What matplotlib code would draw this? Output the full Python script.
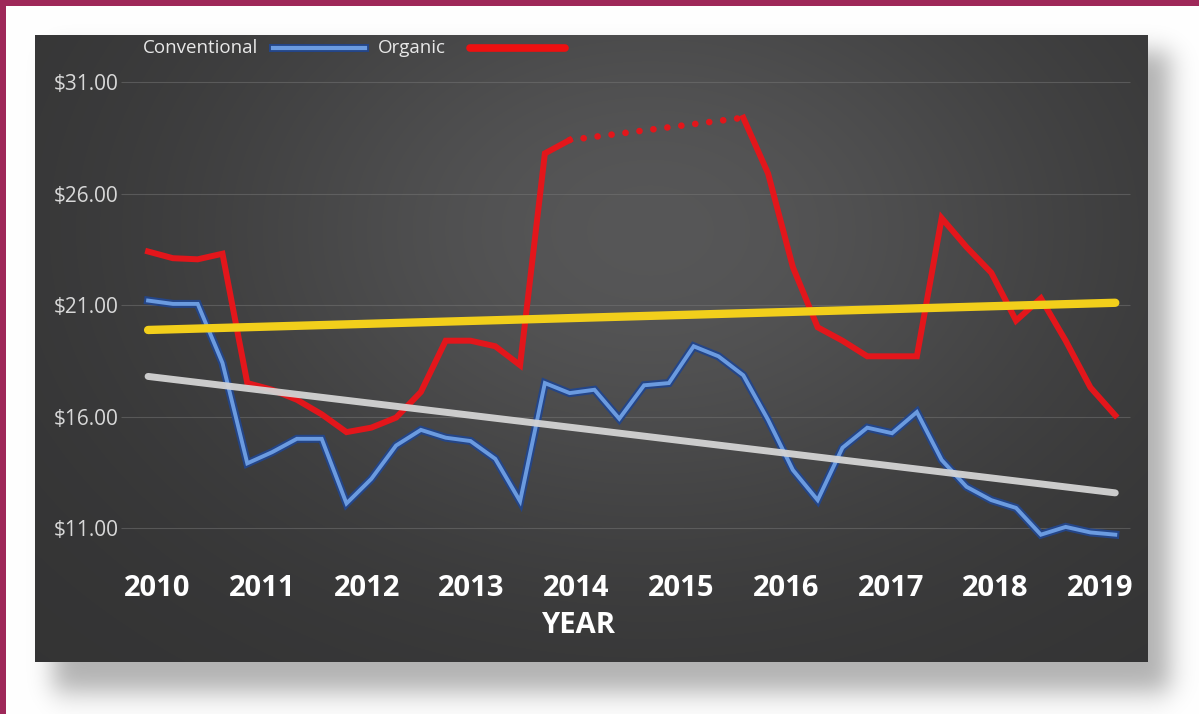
import numpy as np
import matplotlib.pyplot as plt
from matplotlib.lines import Line2D
import matplotlib.patheffects as pe

plt.rcParams['font.family'] = ['Open Sans', 'DejaVu Sans']

# quarterly average prices, 2010-2019
years = ["2010", "2011", "2012", "2013", "2014", "2015", "2016", "2017", "2018", "2019"]
price_ticks = [11, 16, 21, 26, 31]
series_names = ["Conventional", "Organic"]

conventional = [21.2, 21.05, 21.05, 18.4, 13.9, 14.4, 15.0, 15.0, 12.1, 13.2,
                14.7, 15.4, 15.05, 14.9, 14.1, 12.2, 17.5, 17.05, 17.2, 15.9,
                17.4, 17.5, 19.15, 18.7, 17.85, 15.85, 13.6, 12.25, 14.6, 15.5,
                15.25, 16.2, 14.05, 12.85, 12.25, 11.9, 10.7, 11.05, 10.8, 10.7]

# no organic figures for mid 2014 - mid 2015
organic = [23.4, 23.1, 23.05, 23.3, 17.5, 17.2, 16.75, 16.1, 15.3, 15.5,
           15.95, 17.1, 19.4, 19.4, 19.15, 18.3, 27.8, 28.4, np.nan, np.nan,
           np.nan, np.nan, np.nan, np.nan, 29.4, 26.9, 22.7, 20.0, 19.4, 18.7,
           18.7, 18.7, 24.9, 23.6, 22.45, 20.3, 21.3, 19.4, 17.3, 16.05]

W, H = 1199, 714
fig = plt.figure(figsize=(W / 100, H / 100), dpi=100)


def gauss_blur(img, sigma):
    def kern(n):
        idx = np.arange(n)
        k = np.exp(-0.5 * ((idx[:, None] - idx[None, :]) / sigma) ** 2)
        return k / k.sum(axis=1, keepdims=True)
    return kern(img.shape[0]) @ img @ kern(img.shape[1]).T


# page: white with maroon edge, soft shadow and chalkboard panel
yy, xx = np.mgrid[0:H, 0:W]
bg = np.ones((H, W, 3))
px0, px1, py0, py1 = 35, 1148, 35, 662

shadow = ((xx > 52) & (xx < 1170) & (yy > 50) & (yy < 692)).astype(float)
shadow = gauss_blur(shadow, 12)
bg *= (1 - 0.3 * shadow)[..., None]

board = 0.2 + 0.14 * np.exp(-(((xx - 650) / 450.0) ** 2 + ((yy - 230) / 320.0) ** 2))
inside = (xx >= px0) & (xx < px1) & (yy >= py0) & (yy < py1)
for c, tint in enumerate([1.0, 1.0, 1.01]):
    bg[..., c] = np.where(inside, board * tint, bg[..., c])

maroon = np.array([0.62, 0.16, 0.35])
bg[:6, :, :] = maroon
bg[:, :6, :] = maroon

bgax = fig.add_axes([0, 0, 1, 1])
bgax.imshow(bg, aspect='auto', interpolation='bilinear')
bgax.set_axis_off()

# plotting area sits on the board
ax = fig.add_axes([px0 / W, 1 - py1 / H, (px1 - px0) / W, (py1 - py0) / H])
ax.set_facecolor('none')
for s in ax.spines.values():
    s.set_visible(False)
ax.set_xlim(-4.56, 40.32)
ax.set_ylim(4.99, 33.11)

x = np.arange(len(conventional))
conv = np.array(conventional)
org = np.array(organic)

ax.hlines(price_ticks, -1.1, 39.6, color='#777777', lw=0.8, alpha=0.5, zorder=1)

blue_fx = [pe.Stroke(linewidth=5.8, foreground='#244587'), pe.Normal()]
ax.plot(x, conv, color='#6b9be0', lw=2.8, zorder=3, path_effects=blue_fx,
        solid_joinstyle='miter')
ax.plot(x, org, color='#e3161b', lw=4.3, zorder=4, solid_joinstyle='miter')

# dotted bridge across the missing organic quarters
ok = np.where(~np.isnan(org))[0]
gap = np.where(np.diff(ok) > 1)[0]
for g in gap:
    a, b = ok[g], ok[g + 1]
    ax.plot([x[a], x[b]], [org[a], org[b]], color='#e3161b', lw=4.8,
            linestyle=(0, (0.01, 2.1)), dash_capstyle='round', zorder=4)

# linear trends
cfit = np.polyfit(x, conv, 1)
ofit = np.polyfit(x[ok], org[ok], 1)
ax.plot(x[[0, -1]], np.polyval(cfit, x[[0, -1]]), color='#d4d4d4', lw=5,
        solid_capstyle='round', zorder=5, alpha=0.95)
ax.plot(x[[0, -1]], np.polyval(ofit, x[[0, -1]]), color='#f2cf1b', lw=6,
        solid_capstyle='round', zorder=6)

ax.set_yticks(price_ticks)
ax.set_yticklabels([f"${v:.2f}" for v in price_ticks])
ax.tick_params(axis='y', length=0, pad=-60, labelsize=15, labelcolor='#d8d8d8')

ax.set_xticks(np.linspace(0.36, 38.4, len(years)))
ax.set_xticklabels(years, fontweight='bold')
ax.tick_params(axis='x', length=0, pad=-63, labelsize=21, labelcolor='white')

ax.text(0.488, 0.059, "YEAR", transform=ax.transAxes, ha='center', va='center',
        fontsize=21, fontweight='bold', color='white')

# legend row along the top of the board
fig.text(143 / W, 1 - 48 / H, series_names[0], ha='left', va='center',
         fontsize=13.5, color='#e8e8e8')
fig.add_artist(Line2D([273 / W, 365 / W], [1 - 48 / H] * 2, transform=fig.transFigure,
                      color='#6b9be0', lw=3, path_effects=blue_fx))
fig.text(378 / W, 1 - 48 / H, series_names[1], ha='left', va='center',
         fontsize=13.5, color='#e8e8e8')
fig.add_artist(Line2D([470 / W, 565 / W], [1 - 48 / H] * 2, transform=fig.transFigure,
                      color='#ee1010', lw=5.5, solid_capstyle='round'))

fig.savefig('out.png', dpi=100)
